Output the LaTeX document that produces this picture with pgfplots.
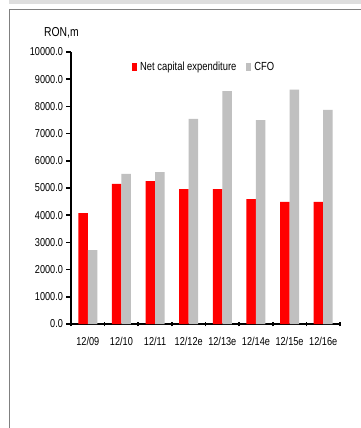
\documentclass[border=0pt]{standalone}
\usepackage{fontspec}
\setmainfont{Liberation Sans}[FakeStretch=0.8]
\usepackage{pgfplots}
\pgfplotsset{compat=1.18}
\definecolor{capred}{HTML}{FF0000}
\definecolor{cfogray}{HTML}{C0C0C0}
\definecolor{bandgray}{HTML}{DEDEDE}
\definecolor{framegray}{HTML}{808080}
\begin{document}
\begin{tikzpicture}[x=1bp,y=1bp]
\useasboundingbox (0,0) rectangle (361,-428);
\fill[white] (0,0) rectangle (361,-428);
\fill[bandgray] (9,0) rectangle (361,-4);
\draw[framegray, line width=1.3bp] (9.5,-428) -- (9.5,-9.8) -- (361,-9.8);
\node[anchor=west, inner sep=0pt, font=\fontsize{13}{15}\selectfont] at (44,-33) {RON,m};
\begin{axis}[
  at={(71bp,-324bp)}, anchor=south west,
  scale only axis, width=269bp, height=272bp,
  xmin=-0.5, xmax=7.5, ymin=0, ymax=10000,
  axis x line*=bottom, axis y line*=left,
  axis line style={-, line width=1.6bp, black},
  xtick={-0.5,0.5,...,7.5}, xticklabels={},
  extra x ticks={0,1,2,3,4,5,6,7},
  extra x tick labels={12/09,12/10,12/11,12/12e,12/13e,12/14e,12/15e,12/16e},
  extra x tick style={major tick length=0pt},
  xtick align=center,
  ytick={0,1000,...,10000},
  ytick align=outside,
  scaled y ticks=false,
  major tick length=4.5bp,
  tick style={line width=1.6bp, black},
  /pgf/number format/assume math mode=true,
  /pgf/number format/fixed,
  /pgf/number format/fixed zerofill,
  /pgf/number format/precision=1,
  /pgf/number format/1000 sep={},
  tick label style={font=\fontsize{11.5}{13}\selectfont},
  xticklabel style={yshift=-9.5bp},
]
\end{axis}
\begin{axis}[
  at={(71bp,-324bp)}, anchor=south west,
  scale only axis, width=269bp, height=272bp,
  xmin=-0.5, xmax=7.5, ymin=0, ymax=10000,
  hide axis,
  ybar=0pt, bar width=9.5bp,
  legend columns=2,
  legend style={at={(61bp,257bp)}, anchor=west, draw=none, fill=none,
    font=\fontsize{11.8}{13}\selectfont, inner sep=0pt,
    legend cell align=left,
    /tikz/every even column/.append style={column sep=8bp},
    /tikz/every odd column/.append style={column sep=1bp}},
  legend image code/.code={\fill[#1] (0bp,-4bp) rectangle (5bp,4bp);},
]
\addplot[fill=capred, draw=none] coordinates {(0,4075) (1,5150) (2,5250) (3,4955) (4,4955) (5,4590) (6,4490) (7,4490)};
\addplot[fill=cfogray, draw=none] coordinates {(0,2712) (1,5520) (2,5580) (3,7545) (4,8566) (5,7497) (6,8614) (7,7876)};
\legend{Net capital expenditure, CFO}
\end{axis}
\end{tikzpicture}
\end{document}
